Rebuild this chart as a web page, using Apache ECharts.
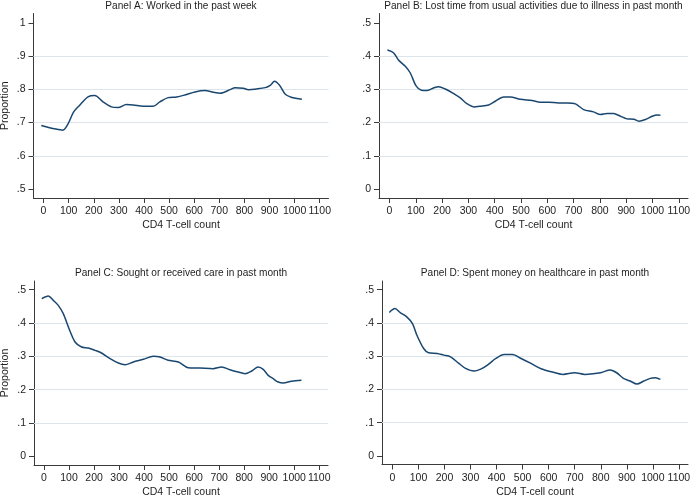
<!DOCTYPE html>
<html>
<head>
<meta charset="utf-8">
<script src="https://cdn.jsdelivr.net/npm/echarts@6/dist/echarts.min.js"></script>
<style>
  html, body { margin: 0; padding: 0; background: #fff; }
  #chart { width: 691px; height: 497px; }
</style>
</head>
<body>
<div id="chart"></div>
<script>
// 패널 제목
const titles = [
  'Panel A: Worked in the past week',
  'Panel B: Lost time from usual activities due to illness in past month',
  'Panel C: Sought or received care in past month',
  'Panel D: Spent money on healthcare in past month'
];

// x축 눈금 (CD4 T-cell count)
const xTicks = [0, 100, 200, 300, 400, 500, 600, 700, 800, 900, 1000, 1100];
// y축 눈금 / 격자선
const yTicksA = [0.5, 0.6, 0.7, 0.8, 0.9, 1];
const gridLinesA = [0.6, 0.7, 0.8, 0.9];
const yTicksLow = [0, 0.1, 0.2, 0.3, 0.4, 0.5];
const gridLinesLow = [0.1, 0.2, 0.3, 0.4];

// Panel A
const xA = [-9, 17, 44, 77, 97, 120, 144, 177, 204, 237, 270, 297, 330, 357, 397, 437, 463, 496, 530, 563, 603, 643, 676, 703, 743, 763, 796, 816, 849, 883, 903, 920, 940, 963, 983, 1009, 1029];
const yA = [0.691, 0.686, 0.681, 0.677, 0.695, 0.732, 0.752, 0.777, 0.781, 0.762, 0.747, 0.745, 0.754, 0.753, 0.749, 0.749, 0.762, 0.775, 0.777, 0.783, 0.792, 0.796, 0.791, 0.788, 0.799, 0.805, 0.803, 0.799, 0.801, 0.805, 0.812, 0.824, 0.812, 0.785, 0.777, 0.772, 0.770];

// Panel B
const xB = [-8, 15, 34, 60, 79, 101, 121, 142, 167, 187, 212, 244, 269, 294, 320, 345, 377, 402, 434, 459, 497, 542, 573, 605, 643, 675, 707, 738, 776, 802, 827, 852, 878, 903, 929, 948, 973, 999, 1018, 1030];
const yB = [0.418, 0.410, 0.388, 0.369, 0.349, 0.310, 0.297, 0.296, 0.304, 0.308, 0.301, 0.287, 0.274, 0.257, 0.247, 0.249, 0.253, 0.264, 0.277, 0.277, 0.270, 0.266, 0.261, 0.261, 0.259, 0.259, 0.256, 0.239, 0.232, 0.224, 0.227, 0.227, 0.219, 0.211, 0.210, 0.204, 0.209, 0.219, 0.223, 0.222];

// Panel C
const xC = [-9, 17, 37, 57, 77, 100, 124, 150, 177, 204, 230, 264, 297, 324, 357, 397, 437, 463, 496, 537, 576, 623, 676, 710, 743, 776, 803, 830, 856, 876, 896, 916, 936, 956, 989, 1029];
const yC = [0.473, 0.481, 0.468, 0.453, 0.428, 0.383, 0.343, 0.328, 0.325, 0.318, 0.310, 0.293, 0.280, 0.275, 0.283, 0.291, 0.300, 0.298, 0.288, 0.283, 0.266, 0.265, 0.263, 0.268, 0.260, 0.253, 0.248, 0.256, 0.268, 0.261, 0.243, 0.233, 0.223, 0.220, 0.225, 0.228];

// Panel D
const xD = [-12, 10, 30, 55, 77, 94, 120, 139, 172, 197, 223, 255, 281, 313, 339, 365, 397, 429, 461, 494, 532, 571, 610, 655, 700, 739, 778, 803, 836, 861, 887, 913, 939, 965, 990, 1010, 1029];
const yD = [0.431, 0.443, 0.431, 0.418, 0.398, 0.363, 0.323, 0.310, 0.308, 0.303, 0.298, 0.278, 0.263, 0.255, 0.261, 0.273, 0.293, 0.305, 0.305, 0.293, 0.278, 0.262, 0.253, 0.245, 0.250, 0.245, 0.248, 0.251, 0.258, 0.250, 0.233, 0.225, 0.216, 0.225, 0.233, 0.235, 0.230];

const FONT = 'Liberation Sans';
const TXT = '#1e1e1e';
const AXIS = '#3a3a3a';
const LINE = '#1a476f';
const GRIDC = '#dbe5eb';

// 패널 배치 (px)
const panels = [
  { grid: { left: 33.5, top: 13.5, width: 295, height: 184.5 }, yMin: 0.473, yMax: 1.028, ticks: yTicksA, gl: gridLinesA, xs: xA, ys: yA, yName: 'Proportion', tTop: 1 },
  { grid: { left: 379, top: 13.5, width: 309, height: 184.5 }, yMin: -0.027, yMax: 0.528, ticks: yTicksLow, gl: gridLinesLow, xs: xB, ys: yB, yName: '', tTop: 1 },
  { grid: { left: 34, top: 281, width: 294, height: 184 }, yMin: -0.026, yMax: 0.526, ticks: yTicksLow, gl: gridLinesLow, xs: xC, ys: yC, yName: 'Proportion', tTop: 268 },
  { grid: { left: 382, top: 281, width: 306, height: 183.5 }, yMin: -0.026, yMax: 0.526, ticks: yTicksLow, gl: gridLinesLow, xs: xD, ys: yD, yName: '', tTop: 268 }
];

const yFmt = v => (v === 0 ? '0' : v === 1 ? '1' : String(v).replace(/^0/, ''));
const txt = { fontFamily: FONT, fontSize: 10.5, color: TXT };

const option = {
  animation: false,
  backgroundColor: '#fff',
  title: panels.map((p, i) => ({
    text: titles[i],
    left: p.grid.left + p.grid.width / 2,
    top: p.tTop,
    textAlign: 'center',
    padding: 0,
    textStyle: { ...txt, fontSize: 10.1, fontWeight: 'normal' }
  })),
  grid: panels.map(p => ({ ...p.grid, containLabel: false, outerBoundsMode: 'none' })),
  xAxis: panels.map((p, i) => ({
    type: 'value', gridIndex: i, min: -40, max: 1135,
    name: 'CD4 T-cell count', nameLocation: 'middle', nameGap: 22,
    nameTextStyle: txt, nameMoveOverlap: false,
    axisLine: { show: true, onZero: false, lineStyle: { color: AXIS, width: 1 } },
    axisTick: { show: true, length: 5, lineStyle: { color: AXIS }, customValues: xTicks },
    axisLabel: { ...txt, margin: 8, customValues: xTicks, hideOverlap: false, formatter: v => String(v) },
    splitLine: { show: false }
  })),
  yAxis: panels.map((p, i) => ({
    type: 'value', gridIndex: i, min: p.yMin, max: p.yMax,
    name: p.yName, nameLocation: 'middle', nameGap: 23,
    nameTextStyle: txt, nameMoveOverlap: false,
    axisLine: { show: true, onZero: false, lineStyle: { color: AXIS, width: 1 } },
    axisTick: { show: true, length: 5, lineStyle: { color: AXIS }, customValues: p.ticks },
    axisLabel: { ...txt, margin: 8, customValues: p.ticks, formatter: yFmt },
    splitLine: { show: false }
  })),
  series: panels.map((p, i) => ({
    type: 'line', xAxisIndex: i, yAxisIndex: i,
    data: p.xs.map((x, k) => [x, p.ys[k]]),
    smooth: 0.3, showSymbol: false, silent: true,
    lineStyle: { color: LINE, width: 1.5 },
    markLine: {
      z: 1, silent: true, symbol: 'none', animation: false,
      label: { show: false },
      lineStyle: { color: GRIDC, width: 1, type: 'solid' },
      data: p.gl.map(v => ({ yAxis: v }))
    }
  }))
};

const chart = echarts.init(document.getElementById('chart'), null, { renderer: 'canvas' });
chart.setOption(option);
</script>
</body>
</html>
